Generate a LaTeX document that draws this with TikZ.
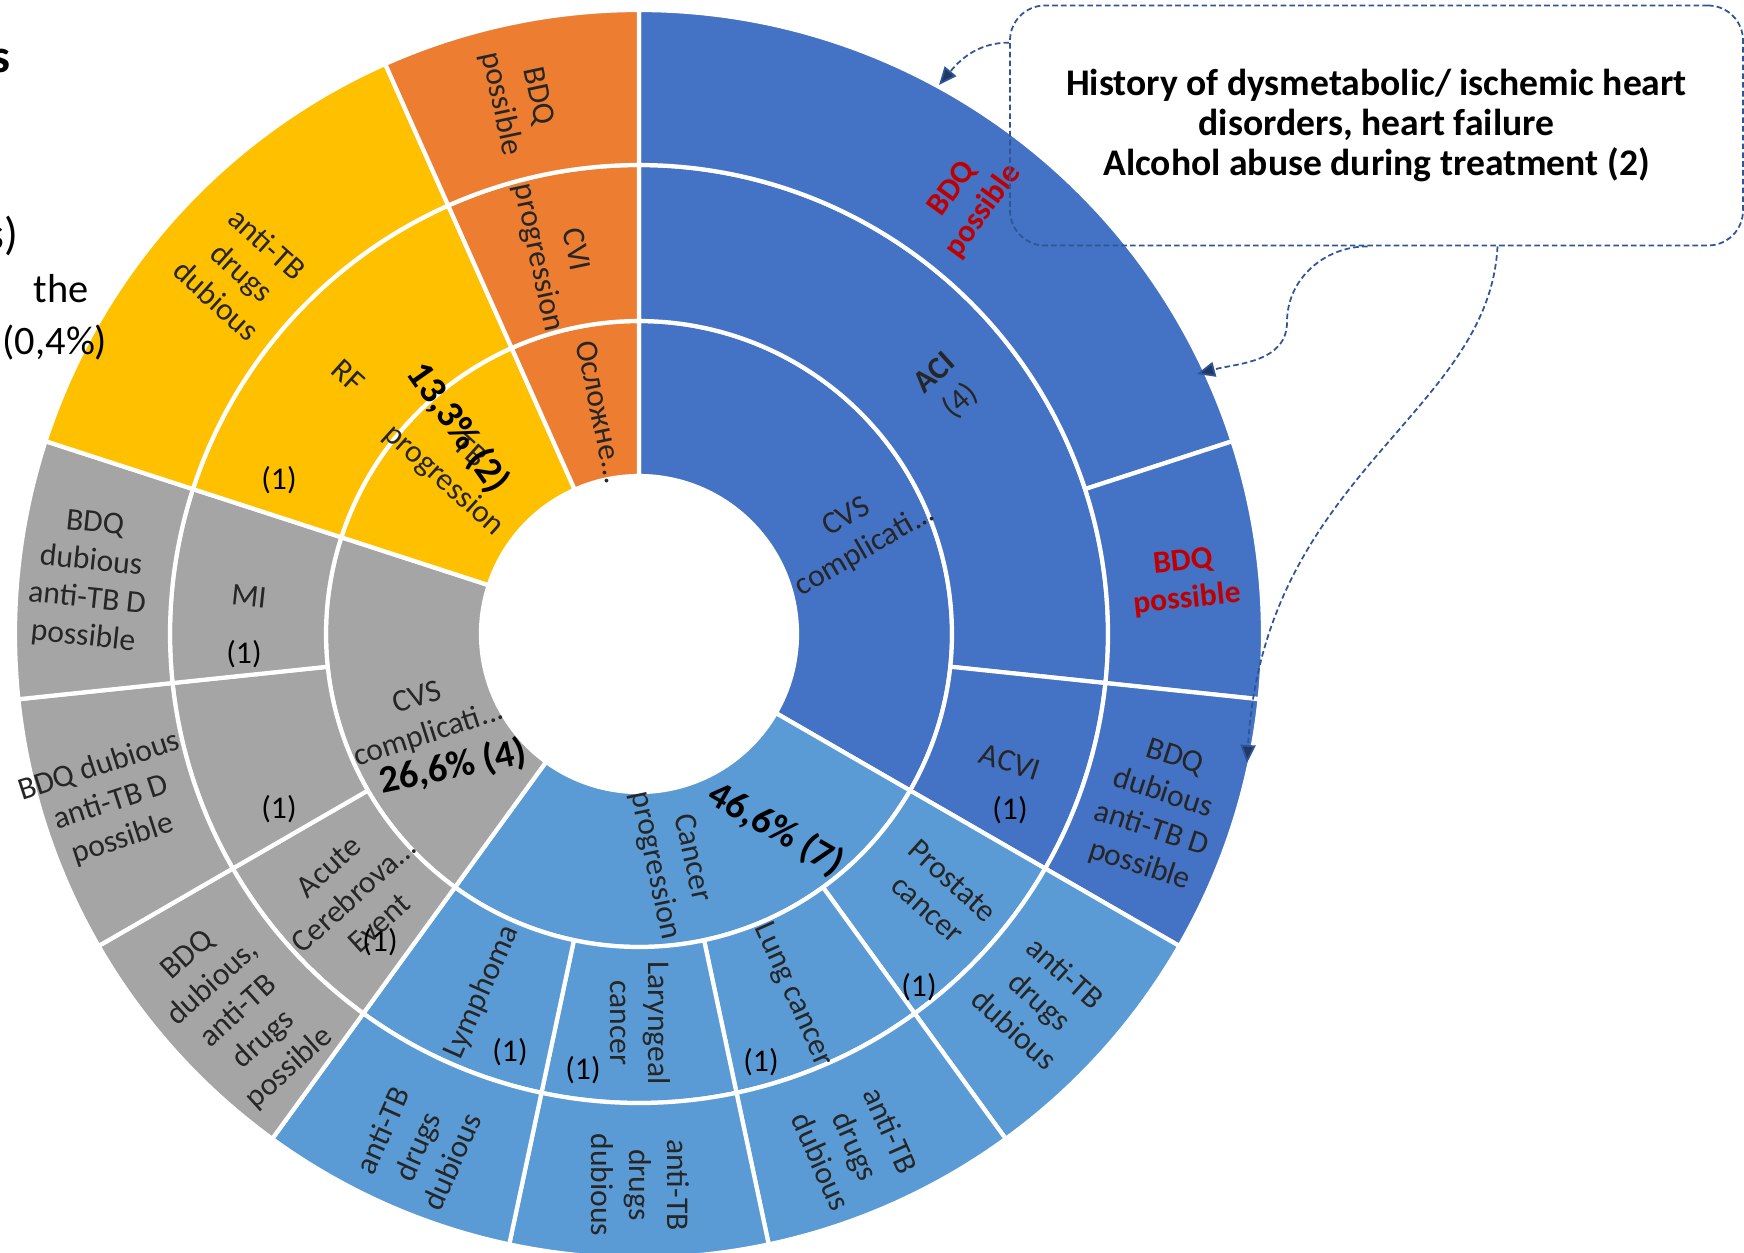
\documentclass[tikz,border=0pt]{standalone}
\usepackage{fontspec}
\setmainfont{Carlito}
\usetikzlibrary{arrows.meta}

\definecolor{cvsblue}{HTML}{4472C4}
\definecolor{cancblue}{HTML}{5B9BD5}
\definecolor{cvsgray}{HTML}{A5A5A5}
\definecolor{tbyellow}{HTML}{FFC000}
\definecolor{cviorange}{HTML}{ED7D31}
\definecolor{bdqred}{HTML}{C00000}
\definecolor{callblue}{HTML}{2F5597}
\definecolor{tipblue}{HTML}{1F3864}
\definecolor{lbltext}{HTML}{262626}

\begin{document}
\begin{tikzpicture}[
    lbl/.style={text=lbltext, font=\fontsize{9}{10.8}\selectfont, align=center, inner sep=0pt},
    cnt/.style={text=black, font=\fontsize{9}{10.8}\selectfont, inner sep=0pt},
    pct/.style={text=black, font=\bfseries\fontsize{11}{13}\selectfont, inner sep=0pt},
    redlbl/.style={lbl, text=bdqred, font=\bfseries\fontsize{9}{10.8}\selectfont},
    hint/.style={callblue, dash pattern=on 1.6pt off 0.9pt, line width=0.5pt,
        -{Triangle[length=1.8mm,width=1.5mm,fill=tipblue]}}
]
\useasboundingbox (-6.39,-6.18) rectangle (11.05,6.34);

% rings: colour / inner radius / outer radius / from / to (degrees clockwise from top)
\foreach \c/\ri/\ro/\a/\b in {
    cvsblue/1.58/3.13/0/120, cancblue/1.58/3.13/120/216, cvsgray/1.58/3.13/216/288,
    tbyellow/1.58/3.13/288/336, cviorange/1.58/3.13/336/360,
    cvsblue/3.13/4.69/0/96, cvsblue/3.13/4.69/96/120,
    cancblue/3.13/4.69/120/144, cancblue/3.13/4.69/144/168,
    cancblue/3.13/4.69/168/192, cancblue/3.13/4.69/192/216,
    cvsgray/3.13/4.69/216/240, cvsgray/3.13/4.69/240/264, cvsgray/3.13/4.69/264/288,
    tbyellow/3.13/4.69/288/336, cviorange/3.13/4.69/336/360,
    cvsblue/4.69/6.24/0/72, cvsblue/4.69/6.24/72/96, cvsblue/4.69/6.24/96/120,
    cancblue/4.69/6.24/120/144, cancblue/4.69/6.24/144/168,
    cancblue/4.69/6.24/168/192, cancblue/4.69/6.24/192/216,
    cvsgray/4.69/6.24/216/240, cvsgray/4.69/6.24/240/264, cvsgray/4.69/6.24/264/288,
    tbyellow/4.69/6.24/288/336, cviorange/4.69/6.24/336/360}
  \filldraw[fill=\c, draw=white, line width=1.2pt, line join=round]
    ({90-\a}:\ri) arc[start angle={90-\a}, end angle={90-\b}, radius=\ri]
    -- ({90-\b}:\ro) arc[start angle={90-\b}, end angle={90-\a}, radius=\ro] -- cycle;

% inner ring
\node[lbl, rotate=30]  (cvsa)  at (2.17,1.00)   {CVS\\complicati...};
\node[lbl, rotate=-78] (canc)  at (0.34,-2.28)  {Cancer\\progression};
\node[lbl, rotate=18]  (cvsb)  at (-2.16,-0.83) {CVS\\complicati...};
\node[lbl, rotate=-42] (tbpr)  at (-1.83,1.67)  {TB\\progression};
\node[lbl, rotate=-78] (oslo)  at (-0.38,2.22)  {Осложне...};

% middle ring
\node[lbl, rotate=42]  (aci)   at (3.09,2.46)   {\textbf{ACI}\\(4)};
\node[lbl, rotate=-18] (acvi)  at (3.71,-1.28)  {ACVI};
\node[cnt]             (acvin) at (3.71,-1.76)  {(1)};
\node[lbl, rotate=-42] (pros)  at (3.01,-2.61)  {Prostate\\cancer};
\node[cnt]             (prosn) at (2.80,-3.53)  {(1)};
\node[lbl, rotate=-66] (lung)  at (1.54,-3.61)  {Lung cancer};
\node[cnt]             (lungn) at (1.22,-4.28)  {(1)};
\node[lbl, rotate=-90] (lary)  at (0.01,-3.89)  {Laryngeal\\cancer};
\node[cnt]             (laryn) at (-0.56,-4.36) {(1)};
\node[lbl, rotate=66]  (lymp)  at (-1.57,-3.58) {Lymphoma};
\node[cnt]             (lympn) at (-1.29,-4.18) {(1)};
\node[lbl, rotate=42]  (acce)  at (-2.85,-2.61) {Acute\\Cerebrova...\\Event};
\node[cnt]             (accen) at (-2.59,-3.08) {(1)};
\node[cnt]             (blank) at (-3.60,-1.75) {(1)};
\node[lbl, rotate=-6]  (mi)    at (-3.90,0.38)  {MI};
\node[cnt]             (min)   at (-3.95,-0.20) {(1)};
\node[lbl, rotate=-42] (rf)    at (-2.91,2.58)  {RF};
\node[cnt]             (rfn)   at (-3.60,1.54)  {(1)};
\node[lbl, rotate=-78] (cvi)   at (-0.83,3.80)  {CVI\\progression};

% outer ring
\node[redlbl, rotate=54] (bdqa) at (3.29,4.34)  {BDQ\\possible};
\node[redlbl, rotate=6]  (bdqb) at (5.46,0.53)  {BDQ\\possible};
\node[lbl, rotate=-18]   (bdqc) at (5.18,-1.78) {BDQ\\dubious\\anti-TB D\\possible};
\node[lbl, rotate=-42]   (atba) at (4.01,-3.67) {anti-TB\\drugs\\dubious};
\node[lbl, rotate=-66]   (atbb) at (2.17,-5.12) {anti-TB\\drugs\\dubious};
\node[lbl, rotate=-90]   (atbc) at (0.01,-5.51) {anti-TB\\drugs\\dubious};
\node[lbl, rotate=66]    (atbd) at (-2.22,-5.12) {anti-TB\\drugs\\dubious};
\node[lbl, rotate=42]    (bdqd) at (-4.00,-3.78) {BDQ\\dubious,\\anti-TB\\drugs\\possible};
\node[lbl, rotate=18]    (bdqe) at (-5.28,-1.69) {BDQ dubious\\anti-TB D\\possible};
\node[lbl, rotate=-6]    (bdqf) at (-5.50,0.53) {BDQ\\dubious\\anti-TB D\\possible};
\node[lbl, rotate=-42]   (atbe) at (-3.97,3.62) {anti-TB\\drugs\\dubious};
\node[lbl, rotate=-78]   (bdqg) at (-1.20,5.34) {BDQ\\possible};

% shares
\node[pct, rotate=-55] (pcty) at (-1.81,2.06)  {13,3\% (2)};
\node[pct, rotate=12]  (pctg) at (-1.86,-1.33) {26,6\% (4)};
\node[pct, rotate=-30] (pctb) at (1.37,-1.95)  {46,6\% (7)};

% cut-off text on the left
\node[font=\bfseries\fontsize{13.5}{16}\selectfont, anchor=east, inner sep=0pt] (cuta) at (-6.28,5.73) {s};
\node[font=\fontsize{13}{15}\selectfont, anchor=east, inner sep=0pt] (cutb) at (-6.20,3.98) {s)};
\node[font=\fontsize{11.5}{14}\selectfont, anchor=west, inner sep=0pt] (cutc) at (-6.06,3.45) {the};
\node[font=\fontsize{11.5}{14}\selectfont, anchor=west, inner sep=0pt] (cutd) at (-6.37,2.91) {(0,4\%)};

% callout
\node[draw=callblue, dash pattern=on 1.6pt off 0.9pt, line width=0.5pt, rounded corners=0.35cm,
      minimum width=7.33cm, minimum height=2.40cm, align=center,
      font=\bfseries\fontsize{10.7}{11.5}\selectfont] (callout) at (7.375,5.085)
  {History of dysmetabolic/ ischemic heart\\disorders, heart failure\\Alcohol abuse during treatment (2)};

\coordinate (tipa) at (3.00,5.49);
\coordinate (bend) at (6.48,3.12);
\coordinate (tipb) at (5.58,2.60);
\coordinate (tipc) at (6.08,-1.29);

\draw[hint] ([yshift=-3.8mm]callout.north west) to[out=180,in=50] (tipa);
\draw[hint] ([xshift=-0.09cm]callout.south) to[out=180,in=90] (bend) to[out=-90,in=15] (tipb);
\draw[hint] ([xshift=1.21cm]callout.south) .. controls (8.50,2.20) and (6.25,1.60) .. (tipc);
\end{tikzpicture}
\end{document}
